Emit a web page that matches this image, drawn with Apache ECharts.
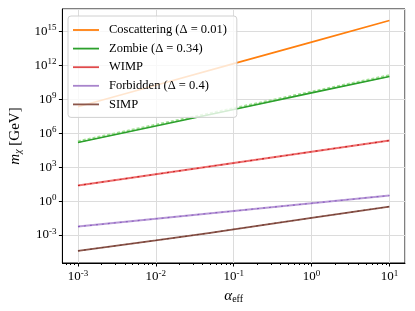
<!DOCTYPE html>
<html><head><meta charset="utf-8">
<script src="https://cdn.jsdelivr.net/npm/echarts@6/dist/echarts.min.js"></script>
<style>html,body{margin:0;padding:0;background:#fff}#c{width:415px;height:311px}</style>
</head><body><div id="c"></div><script>
// data
const alphaEff = [1e-3, 1e-2, 1e-1, 1, 10];
const coscattering = [2.24e8, 1.78e10, 1.45e12, 1.15e14, 9.3e15];
const zombie = [1.55e5, 4.47e6, 1.29e8, 3.72e9, 1.07e11];
const zombieApprox = [1.86e5, 5.4e6, 1.55e8, 4.5e9, 1.29e11];
const wimp = [24, 240, 2340, 2.34e4, 2.29e5];
const forbidden = [5.6e-3, 2.75e-2, 0.135, 0.646, 3.16];
const simpAlpha = [1e-3, 1e-2, 0.05, 0.1, 1, 10];
const simp = [3.98e-5, 3.39e-4, 1.55e-3, 3.24e-3, 3.31e-2, 0.331];
const legendNames = ['Coscattering (Δ = 0.01)', 'Zombie (Δ = 0.34)', 'WIMP', 'Forbidden (Δ = 0.4)', 'SIMP'];
const legendColors = ['#ff7f0e', '#2ca02c', '#e04a4b', '#a884cc', '#8c564b'];
const minorTicks = [];
for (let e = -4; e <= 1; e++) for (let k = 2; k <= 9; k++) minorTicks.push(k * Math.pow(10, e));

const pairs = (xs, ys) => xs.map((x, i) => [x, ys[i]]);
const serif = 'Liberation Serif';
const supLabel = (v, step) => {
  const e = Math.log10(v);
  const r = Math.round(e);
  if (Math.abs(e - r) > 1e-6 || r % step !== 0) return '';
  return '{b|10}{s|' + (r < 0 ? '-' + (-r) : r) + '}';
};
const richLab = {
  b: {fontFamily: serif, fontSize: 13, color: '#000'},
  s: {fontFamily: serif, fontSize: 9, color: '#000', padding: [0, 0, 7, 0]}
};
const line = (name, xs, ys, color, width, extra) => Object.assign({
  name, type: 'line', data: pairs(xs, ys), symbol: 'none', smooth: false,
  lineStyle: {color, width}, itemStyle: {color}, animation: false, silent: true
}, extra || {});

const chart = echarts.init(document.getElementById('c'), null, {renderer: 'canvas'});
chart.setOption({
  animation: false,
  grid: {left: 62, right: 10, top: 9, bottom: 48, show: true, borderColor: '#000', borderWidth: 1, backgroundColor: 'transparent'},
  xAxis: [{
    type: 'log', logBase: 10, min: Math.pow(10, -3.2), max: Math.pow(10, 1.2),
    name: '{a|α}{e|eff}', nameLocation: 'middle', nameGap: 18,
    nameTextStyle: {rich: {a: {fontFamily: serif, fontSize: 15, fontStyle: 'italic', color: '#000'}, e: {fontFamily: serif, fontSize: 10, color: '#000', padding: [6, 0, 0, 0]}}},
    axisLine: {show: true, lineStyle: {color: '#000', width: 1}},
    axisTick: {show: true, inside: false, length: 3.5, lineStyle: {color: '#000'}},
    axisLabel: {margin: 6, formatter: v => supLabel(v, 1), rich: richLab, showMinLabel: false, showMaxLabel: false},
    splitLine: {show: true, lineStyle: {color: '#dcdcdc', width: 1}}
  }, {
    type: 'log', logBase: 10, min: Math.pow(10, -3.2), max: Math.pow(10, 1.2), position: 'bottom',
    axisLine: {show: false}, axisLabel: {show: false}, splitLine: {show: false},
    axisTick: {show: true, length: 2, customValues: minorTicks, lineStyle: {color: '#000'}}
  }],
  yAxis: {
    type: 'log', logBase: 1000, min: Math.pow(10, -5.47), max: Math.pow(10, 16.99),
    name: '{m|m}{c|χ}{g| [GeV]}', nameLocation: 'middle', nameGap: 28, nameRotate: 90,
    nameTextStyle: {rich: {m: {fontFamily: serif, fontSize: 15, fontStyle: 'italic', color: '#000'}, c: {fontFamily: serif, fontSize: 10, fontStyle: 'italic', color: '#000', padding: [6, 0, 0, 0]}, g: {fontFamily: serif, fontSize: 15, color: '#000'}}},
    axisLine: {show: true, lineStyle: {color: '#000', width: 1}},
    axisTick: {show: true, length: 3.5, lineStyle: {color: '#000'}},
    axisLabel: {margin: 6, formatter: v => supLabel(v, 3), rich: richLab, showMinLabel: false, showMaxLabel: false},
    splitLine: {show: true, lineStyle: {color: '#dcdcdc', width: 1}}
  },
  legend: {
    data: legendNames.map((n, i) => ({name: n, itemStyle: {color: legendColors[i]}})),
    orient: 'vertical', left: 68, top: 16, icon: 'rect',
    padding: [7, 10, 6, 5], itemGap: 4.6, itemWidth: 26, itemHeight: 1.8,
    backgroundColor: 'rgba(255,255,255,0.8)', borderColor: '#d0d0d0', borderWidth: 1, borderRadius: 3,
    textStyle: {fontFamily: serif, fontSize: 12.5, lineHeight: 14, color: '#000', padding: [0, 0, 0, 5]}
  },
  series: [
    line(legendNames[0], alphaEff, coscattering, '#ff7f0e', 1.6),
    line('zombie approx', alphaEff, zombieApprox, '#9fdf92', 2.6, {lineStyle: {color: '#9fdf92', width: 2.6, type: [3, 2]}, z: 1}),
    line(legendNames[1], alphaEff, zombie, '#2ca02c', 1.6),
    line(legendNames[2], alphaEff, wimp, '#ee7070', 2),
    line('wimp approx', alphaEff, wimp, '#c81e20', 1, {lineStyle: {color: '#c81e20', width: 1.1, type: [2, 4]}}),
    line(legendNames[3], alphaEff, forbidden, '#b89ad6', 2),
    line('forbidden approx', alphaEff, forbidden, '#8a5cc0', 1, {lineStyle: {color: '#8a5cc0', width: 1.1, type: [2, 4]}}),
    line(legendNames[4], simpAlpha, simp, '#8c564b', 1.8),
    line('simp approx', simpAlpha, simp, '#6b3830', 1, {lineStyle: {color: '#6b3830', width: 1, type: [2, 4]}})
  ]
});
</script></body></html>
